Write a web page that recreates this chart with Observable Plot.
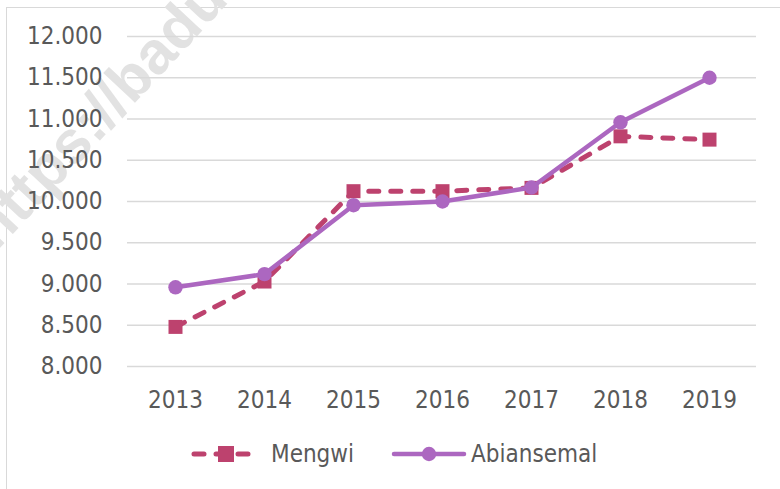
<!DOCTYPE html>
<html>
<head>
<meta charset="utf-8">
<script src="https://cdn.jsdelivr.net/npm/d3@7"></script>
<script src="https://cdn.jsdelivr.net/npm/@observablehq/plot@0.6"></script>
<style>
  html, body { margin: 0; padding: 0; background: #fff; overflow: hidden; }
  #wrap { position: relative; width: 780px; height: 489px; overflow: hidden;
          font-family: "DejaVu Sans Condensed", "DejaVu Sans", sans-serif; }
  #frame { position: absolute; left: 6px; top: 7px; width: 820px; height: 520px;
           border: 1px solid #d9d9d9; box-sizing: border-box; }
  #wm { position: absolute; left: 0; top: 0; }
  #chart { position: absolute; left: 0; top: 0; }
  .leg { position: absolute; top: 440px; height: 28px; display: flex; align-items: center;
         font-size: 24px; color: #595959; }
</style>
</head>
<body>
<div id="wrap">
  <div id="frame"></div>
  <svg id="wm" width="780" height="489">
    <text x="-4" y="252" transform="rotate(-47 -4 252)" font-family="Liberation Sans, Arial, sans-serif"
          font-weight="bold" font-size="60" fill="#e2e2e2">https://badu</text>
  </svg>
  <div id="chart"></div>
  <div id="legend"></div>
</div>
<script>
const years = ["2013", "2014", "2015", "2016", "2017", "2018", "2019"];
const seriesNames = ["Mengwi", "Abiansemal"];
const mengwi = [8480, 9030, 10125, 10125, 10165, 10790, 10750];
const abiansemal = [8960, 9120, 9955, 10000, 10170, 10960, 11500];
const yTicks = [8000, 8500, 9000, 9500, 10000, 10500, 11000, 11500, 12000];
const colors = ["#BD426E", "#AC67C0"];

const idLocale = d3.formatLocale({decimal: ",", thousands: ".", grouping: [3], currency: ["Rp", ""]});
const fmt = idLocale.format(",.0f");

const dataM = years.map((y, i) => ({year: y, value: mengwi[i]}));
const dataA = years.map((y, i) => ({year: y, value: abiansemal[i]}));

const chart = Plot.plot({
  width: 780,
  height: 420,
  marginTop: 36,
  marginBottom: 54,
  marginLeft: 127,
  marginRight: 24,
  style: {fontFamily: '"DejaVu Sans Condensed", "DejaVu Sans", sans-serif', fontSize: "24px", color: "#595959", background: "transparent"},
  x: {type: "point", domain: years, padding: 0.5, label: null},
  y: {domain: [8000, 12000], label: null},
  marks: [
    Plot.ruleY(yTicks, {stroke: "#d9d9d9", strokeWidth: 1.3}),
    Plot.axisY({ticks: yTicks, tickFormat: fmt, tickSize: 0, tickPadding: 25, fill: "#595959", fontSize: 24}),
    Plot.axisX({tickSize: 0, tickPadding: 24, fill: "#595959", fontSize: 24}),
    Plot.line(dataM, {x: "year", y: "value", stroke: colors[0], strokeWidth: 5, strokeDasharray: "10,12", strokeLinecap: "round", strokeLinejoin: "round"}),
    Plot.dot(dataM, {x: "year", y: "value", symbol: "square", r: 7.9, fill: colors[0], stroke: "none"}),
    Plot.line(dataA, {x: "year", y: "value", stroke: colors[1], strokeWidth: 4.5, strokeLinejoin: "round"}),
    Plot.dot(dataA, {x: "year", y: "value", symbol: "circle", r: 7.2, fill: colors[1], stroke: "none"})
  ]
});
document.getElementById("chart").appendChild(chart);

// Legend
const legend = document.getElementById("legend");
function legItem(left, svgW, gap, name, color, dashed, square) {
  const div = document.createElement("div");
  div.className = "leg";
  div.style.left = left + "px";
  const ns = "http://www.w3.org/2000/svg";
  const svg = document.createElementNS(ns, "svg");
  svg.setAttribute("width", svgW);
  svg.setAttribute("height", 28);
  const line = document.createElementNS(ns, "line");
  line.setAttribute("x1", 3); line.setAttribute("x2", svgW - 3);
  line.setAttribute("y1", 14); line.setAttribute("y2", 14);
  line.setAttribute("stroke", color);
  line.setAttribute("stroke-width", dashed ? 5 : 4.5);
  line.setAttribute("stroke-linecap", "round");
  if (dashed) line.setAttribute("stroke-dasharray", "10,12");
  svg.appendChild(line);
  if (square) {
    const r = document.createElementNS(ns, "rect");
    r.setAttribute("x", svgW / 2 - 8); r.setAttribute("y", 6);
    r.setAttribute("width", 16); r.setAttribute("height", 16);
    r.setAttribute("fill", color);
    svg.appendChild(r);
  } else {
    const c = document.createElementNS(ns, "circle");
    c.setAttribute("cx", svgW / 2); c.setAttribute("cy", 14); c.setAttribute("r", 7.2);
    c.setAttribute("fill", color);
    svg.appendChild(c);
  }
  div.appendChild(svg);
  const span = document.createElement("span");
  span.textContent = name;
  span.style.marginLeft = gap + "px";
  div.appendChild(span);
  legend.appendChild(div);
}
legItem(191, 70, 10, seriesNames[0], colors[0], true, true);
legItem(391, 76, 4, seriesNames[1], colors[1], false, false);
</script>
</body>
</html>
